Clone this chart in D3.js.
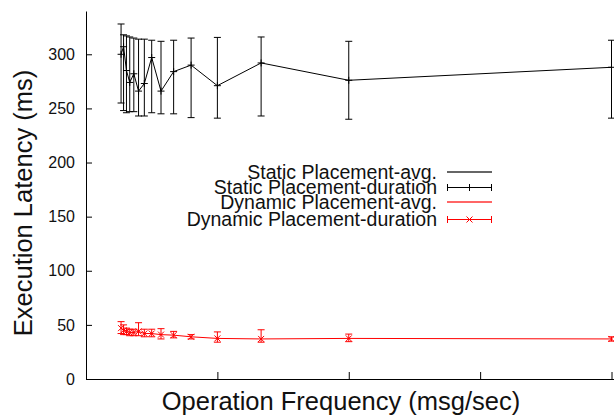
<!DOCTYPE html>
<html>
<head>
<meta charset="utf-8">
<script src="https://cdn.jsdelivr.net/npm/d3@7"></script>
<style>
  body { margin: 0; background: #fff; }
  text { font-family: "Liberation Sans", Arial, sans-serif; }
</style>
</head>
<body>
<div class="chart"></div>
<script>
// operation frequency (unlabelled axis, ticks at 1..4)
const freq = [0.267, 0.286, 0.308, 0.333, 0.364, 0.4, 0.444, 0.5, 0.571, 0.667, 0.8, 1, 1.333, 2, 4];

const staticAvg = [300, 307, 285, 274, 282, 266, 273, 297, 266, 284, 290, 271, 292, 276, 288];
const staticLo  = [255, 248, 246, 247, 247, 243, 243, 246, 245, 245, 241.5, 241, 243, 240, 241];
const staticHi  = [328, 318, 317, 316, 315, 314, 314, 313, 312, 313, 315, 315.6, 316, 312, 313];

const dynAvg = [47, 45, 44, 43, 43, 44, 42, 42, 41, 40.5, 39, 37.5, 37, 37.5, 37];
const dynLo  = [42, 41, 41, 40, 40, 40, 39, 39, 37, 38, 37, 34, 34, 34.5, 35];
const dynHi  = [53, 50, 47, 46, 46, 52, 46, 46, 46.5, 44, 41, 43.5, 45.5, 41.5, 39];

const yTicks = [0, 50, 100, 150, 200, 250, 300];
const xTicks = [1, 2, 3, 4];
const legendLabels = ["Static Placement-avg.", "Static Placement-duration",
                      "Dynamic Placement-avg.", "Dynamic Placement-duration"];

var margin = {top: 11, right: 0, bottom: 39, left: 86};
var width = 614 - margin.left - margin.right,
    height = 418 - margin.top - margin.bottom;

const svg = d3.select(".chart").append("svg")
    .attr("width", width + margin.left + margin.right)
    .attr("height", height + margin.top + margin.bottom)
  .append("g")
    .attr("transform", "translate(" + margin.left + "," + margin.top + ")");

const xScale = d3.scaleLinear().domain([0, 4]).range([0, 525.5]);
const yScale = d3.scaleLinear().domain([0, 340]).range([height, 0]);

// axes
const yAxis = d3.axisLeft(yScale).tickValues(yTicks).tickSizeInner(-6).tickSizeOuter(0).tickPadding(11);
const gy = svg.append("g").attr("class", "axis y-axis").call(yAxis);
gy.selectAll("text").attr("font-size", 16).attr("fill", "#111")
  .style("font-family", "'Liberation Sans', Arial, sans-serif");

const xAxisScale = xScale.copy().domain([0, xScale.invert(width)]).range([0, width]);
const xAxis = d3.axisBottom(xAxisScale).tickValues(xTicks).tickFormat("").tickSizeInner(-7).tickSizeOuter(0);
svg.append("g").attr("class", "axis x-axis")
    .attr("transform", `translate(0, ${height})`)
    .call(xAxis);

svg.selectAll(".axis path, .axis line").attr("stroke", "#000");

// axis labels
svg.append("text")
    .attr("x", 341 - margin.left)
    .attr("y", 410 - margin.top)
    .attr("text-anchor", "middle")
    .attr("font-size", 25.5)
    .attr("fill", "#111")
    .text("Operation Frequency (msg/sec)");

svg.append("text")
    .attr("transform", `translate(${32 - margin.left}, ${203 - margin.top}) rotate(-90)`)
    .attr("text-anchor", "middle")
    .attr("font-size", 25.5)
    .attr("fill", "#111")
    .text("Execution Latency (ms)");

function drawSeries(avg, lo, hi, color, marker) {
    const pts = freq.map((f, i) => ({x: f, y: avg[i], lo: lo[i], hi: hi[i]}));
    const line = d3.line().x(d => xScale(d.x)).y(d => yScale(d.y));
    svg.append("path")
        .datum(pts)
        .attr("fill", "none")
        .attr("stroke", color)
        .attr("stroke-width", 1)
        .attr("d", line);

    const bars = svg.append("g").attr("stroke", color).attr("stroke-width", 1)
        .selectAll("g").data(pts).join("g");
    bars.append("line")
        .attr("x1", d => xScale(d.x)).attr("x2", d => xScale(d.x))
        .attr("y1", d => yScale(d.lo)).attr("y2", d => yScale(d.hi));
    bars.append("line")
        .attr("x1", d => xScale(d.x) - 3.5).attr("x2", d => xScale(d.x) + 3.5)
        .attr("y1", d => yScale(d.lo)).attr("y2", d => yScale(d.lo));
    bars.append("line")
        .attr("x1", d => xScale(d.x) - 3.5).attr("x2", d => xScale(d.x) + 3.5)
        .attr("y1", d => yScale(d.hi)).attr("y2", d => yScale(d.hi));
    bars.append("path")
        .attr("fill", "none")
        .attr("d", d => marker(xScale(d.x), yScale(d.y)));
}

const plus = (x, y) => `M${x - 3.5},${y}H${x + 3.5}M${x},${y - 3.5}V${y + 3.5}`;
const cross = (x, y) => `M${x - 3},${y - 3}L${x + 3},${y + 3}M${x - 3},${y + 3}L${x + 3},${y - 3}`;

drawSeries(staticAvg, staticLo, staticHi, "#000", plus);
drawSeries(dynAvg, dynLo, dynHi, "#ff0000", cross);

// legend
const legendY = [172.3, 186.7, 202.3, 218.7];
const legendColor = ["#000", "#000", "#ff0000", "#ff0000"];
const lg = svg.append("g").attr("transform", `translate(${-margin.left}, ${-margin.top})`);
legendLabels.forEach((lbl, i) => {
    const y = legendY[i];
    lg.append("text")
        .attr("x", 437).attr("y", y)
        .attr("dy", "0.36em")
        .attr("text-anchor", "end")
        .attr("font-size", 19.5)
        .attr("fill", "#111")
        .text(lbl);
    const g = lg.append("g").attr("stroke", legendColor[i]).attr("stroke-width", 1).attr("fill", "none");
    if (i % 2 === 0) {
        g.attr("stroke-opacity", 0.6).attr("stroke-width", 2)
         .append("line").attr("x1", 447).attr("x2", 492).attr("y1", Math.round(y)).attr("y2", Math.round(y));
    } else {
        const yy = Math.round(y) + 0.5;
        g.append("line").attr("x1", 447).attr("x2", 492).attr("y1", yy).attr("y2", yy);
        g.append("line").attr("x1", 447.5).attr("x2", 447.5).attr("y1", yy - 3.5).attr("y2", yy + 3.5);
        g.append("line").attr("x1", 491.5).attr("x2", 491.5).attr("y1", yy - 3.5).attr("y2", yy + 3.5);
        g.append("path").attr("d", (i === 1 ? plus : cross)(469.5, yy));
    }
});
</script>
</body>
</html>
